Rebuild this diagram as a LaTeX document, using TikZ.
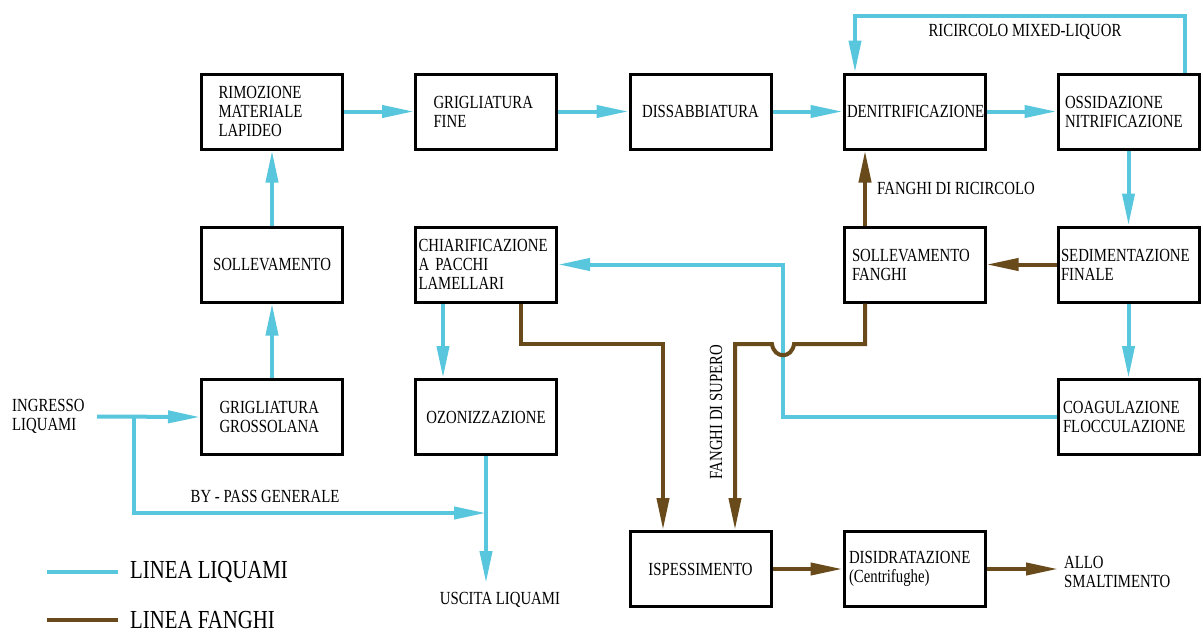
\documentclass[tikz,border=0pt]{standalone}
\usepackage{fontspec}
\setmainfont{Liberation Serif}[FakeStretch=0.8]
\usetikzlibrary{arrows.meta,calc}
\definecolor{liq}{RGB}{88,198,220}
\definecolor{fan}{RGB}{105,74,26}
\newcommand{\boxfont}{\fontsize{18.5}{19}\selectfont}
\newcommand{\legfont}{\fontsize{26}{27}\selectfont}
\tikzset{
  box/.style={draw, line width=3pt, minimum height=75pt, align=left, font=\boxfont},
  cbox/.style={box, align=center, inner xsep=3pt, text width=135pt},
  lbl/.style={font=\boxfont, inner sep=0pt, align=left},
  liqline/.style={draw=liq, line width=4pt},
  fanline/.style={draw=fan, line width=4pt},
  tip/.style={-{Triangle[length=32pt,width=12pt]}},
}
\begin{document}
\begin{tikzpicture}[x=1pt,y=-1pt]
\useasboundingbox (0,0) rectangle (1203,633);
% boxes
\node[box, inner xsep=17pt, text width=107pt] (rim) at (272,111.5) {RIMOZIONE\\MATERIALE\\LAPIDEO};
\node[cbox] (soll) at (272,264.5) {SOLLEVAMENTO};
\node[box, inner xsep=18pt, text width=105pt] (gro) at (272,417) {GRIGLIATURA\\GROSSOLANA};
\node[box, inner xsep=18pt, text width=105pt] (fine) at (486,111.5) {GRIGLIATURA\\FINE};
\node[box, inner xsep=3pt, text width=135pt] (chia) at (486,264.5) {CHIARIFICAZIONE\\A PACCHI\\LAMELLARI};
\node[cbox] (ozo) at (486,417) {OZONIZZAZIONE};
\node[cbox] (diss) at (700.5,111.5) {DISSABBIATURA};
\node[cbox] (isp) at (700.5,569) {ISPESSIMENTO};
\node[cbox] (deni) at (914.5,111.5) {DENITRIFICAZIONE};
\node[box, inner xsep=8pt, text width=125pt] (sollf) at (914.5,264.5) {SOLLEVAMENTO\\FANGHI};
\node[box, inner xsep=5pt, text width=131pt] (disi) at (914.5,569) {DISIDRATAZIONE\\(Centrifughe)};
\node[box, inner xsep=7pt, text width=127pt] (oss) at (1128.5,111.5) {OSSIDAZIONE\\NITRIFICAZIONE};
\node[box, inner xsep=3pt, text width=135pt] (sed) at (1128.5,264.5) {SEDIMENTAZIONE\\FINALE};
\node[box, inner xsep=5pt, text width=131pt] (coag) at (1128.5,417) {COAGULAZIONE\\FLOCCULAZIONE};
% labels
\node[lbl, anchor=west] (ingr) at (12,416.5) {INGRESSO\\LIQUAMI};
\node[lbl] (bypass) at (265,496) {BY - PASS GENERALE};
\node[lbl] (uscita) at (500,600) {USCITA LIQUAMI};
\node[lbl] (ricirc) at (1025,32) {RICIRCOLO MIXED-LIQUOR};
\node[lbl, anchor=west] (fric) at (877,188) {FANGHI DI RICIRCOLO};
\node[lbl, rotate=90] (fsup) at (716,412) {FANGHI DI SUPERO};
\node[lbl, anchor=west] (smalt) at (1064,572) {ALLO\\SMALTIMENTO};
\node[lbl, font=\legfont, anchor=west] (legl) at (130,572) {LINEA LIQUAMI};
\node[lbl, font=\legfont, anchor=west] (legf) at (130,620) {LINEA FANGHI};
% coordinates
\coordinate (inS) at (97,416.5);
\coordinate (jn) at (134,416.5);
\coordinate (bp) at (486,513);
\coordinate (usc) at (486,583);
\coordinate (rcR) at (1185,16);
\coordinate (rcL) at (855,16);
\coordinate (coagX) at (783,417);
\coordinate (fsA) at (521,344);
\coordinate (fsB) at (663,344);
\coordinate (fsC) at (865,344);
\coordinate (fsD) at (735,344);
\coordinate (smE) at (1058,569);
\coordinate (l1a) at (47,572);
\coordinate (l1b) at (118,572);
\coordinate (l2a) at (47,620);
\coordinate (l2b) at (118,620);
% liquid line
\draw[liqline, tip] (inS) -- (gro.west);
\draw[liqline, tip] (jn) |- (bp);
\draw[liqline, tip] (gro.north) -- (soll.south);
\draw[liqline, tip] (soll.north) -- (rim.south);
\draw[liqline, tip] (rim.east) -- (fine.west);
\draw[liqline, tip] (fine.east) -- (diss.west);
\draw[liqline, tip] (diss.east) -- (deni.west);
\draw[liqline, tip] (deni.east) -- (oss.west);
\draw[liqline, tip] (oss.north -| rcR) -- (rcR) -- (rcL) -- (rcL |- deni.north);
\draw[liqline, tip] (oss.south) -- (sed.north);
\draw[liqline, tip] (sed.south) -- (coag.north);
\draw[liqline, tip] (coag.west) -- (coagX) |- (chia.east);
\draw[liqline, tip] (chia.south -| 443,0) -- (ozo.north -| 443,0);
\draw[liqline, tip] (ozo.south) -- (usc);
% sludge line
\draw[fanline, tip] (sed.west) -- (sollf.east);
\draw[fanline, tip] (sollf.north -| 865,0) -- (deni.south -| 865,0);
\draw[fanline, tip] (chia.south -| fsA) -- (fsA) -- (fsB) -- (isp.north -| fsB);
\draw[fanline, tip] (sollf.south -| fsC) -- (fsC) -- (794,344) .. controls (792,359) and (774,359) .. (772,344) -- (fsD) -- (isp.north -| fsD);
\draw[fanline, tip] (isp.east) -- (disi.west);
\draw[fanline, tip] (disi.east) -- (smE);
% legend
\draw[liqline] (l1a) -- (l1b);
\draw[fanline] (l2a) -- (l2b);
\end{tikzpicture}
\end{document}
